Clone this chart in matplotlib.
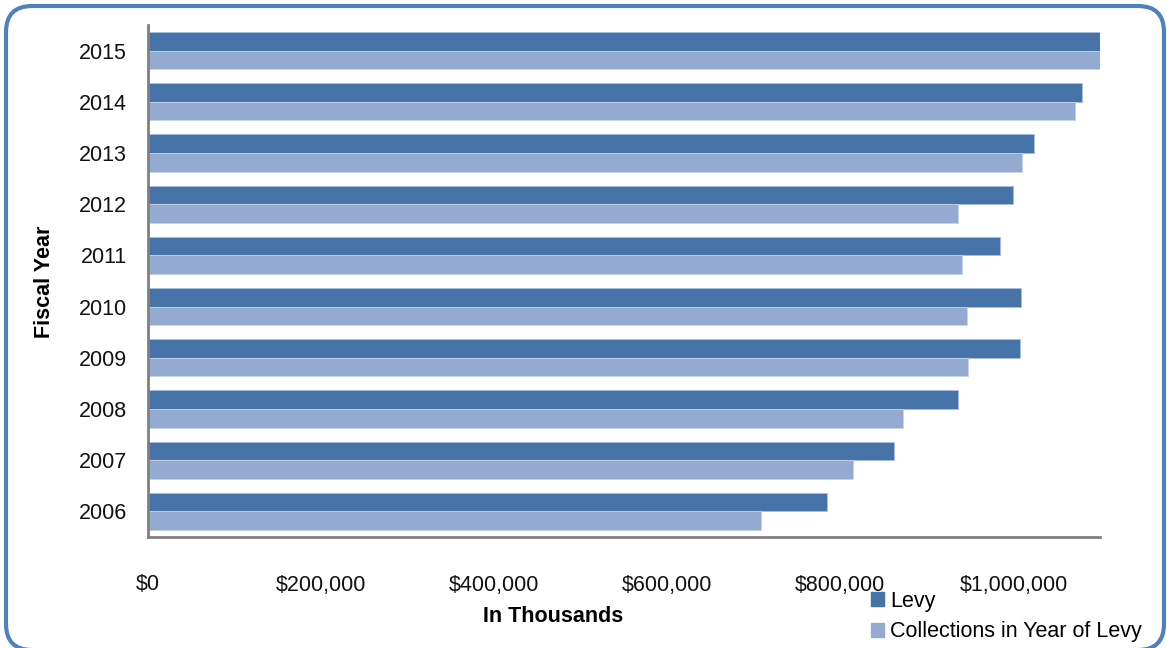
import numpy as np
import matplotlib.pyplot as plt
from matplotlib import font_manager
from matplotlib.patches import FancyBboxPatch, Patch

years = ['2006', '2007', '2008', '2009', '2010', '2011', '2012', '2013', '2014', '2015']
levy = [784500, 861900, 935900, 1007500, 1008700, 984400, 999400, 1023700, 1079000, 1100000]
collections = [708300, 814600, 872300, 947400, 946300, 940500, 935900, 1009800, 1071000, 1100000]
xticks = [0, 200000, 400000, 600000, 800000, 1000000]
xticklabels = ['$0', '$200,000', '$400,000', '$600,000', '$800,000', '$1,000,000']

# narrow face if it is there, else a plain sans at a smaller size
names = {f.name for f in font_manager.fontManager.ttflist}
if 'Liberation Sans Narrow' in names:
    fam, fs = 'Liberation Sans Narrow', 18
else:
    fam, fs = 'Liberation Sans', 15.5
plt.rcParams['font.family'] = [fam, 'DejaVu Sans']

levy_col = '#4673A8'
coll_col = '#95AAD1'

fig = plt.figure(figsize=(11.67, 6.48), dpi=100)

# full-figure layer in pixel units for the rounded frame
bg = fig.add_axes([0, 0, 1, 1])
bg.set_xlim(0, 1167)
bg.set_ylim(0, 648)
bg.axis('off')
bg.add_patch(FancyBboxPatch((6, -2), 1158, 644, boxstyle='round,pad=0,rounding_size=26',
                            facecolor='none', edgecolor='#4F81BD', linewidth=3,
                            clip_on=False))

ax = fig.add_axes([148/1167, 1-537/648, (1100-148)/1167, (537-25)/648])
ax.patch.set_alpha(0)

y = np.arange(len(years))
h = 0.365
ax.barh(y + h/2, levy, height=h, color=levy_col, edgecolor='#A9BEDD', linewidth=0.6, label='Levy')
ax.barh(y - h/2, collections, height=h, color=coll_col, edgecolor='#C6D3E8', linewidth=0.6,
        label='Collections in Year of Levy')

ax.set_xlim(0, 1100000)
ax.set_ylim(-0.5, len(years) - 0.5)
ax.set_yticks(y)
ax.set_yticklabels(years)
ax.set_xticks(xticks)
ax.set_xticklabels(xticklabels)
ax.tick_params(axis='both', length=0, labelsize=fs, colors='#111111')
ax.tick_params(axis='x', pad=27)
ax.tick_params(axis='y', pad=15)

for s in ['top', 'right']:
    ax.spines[s].set_visible(False)
for s in ['left', 'bottom']:
    ax.spines[s].set_color('#808080')
    ax.spines[s].set_linewidth(2)

fig.text(553/1167, 1-617/648, 'In Thousands', ha='center', va='center',
         fontsize=fs, fontweight='bold')
fig.text(45/1167, 1-282/648, 'Fiscal Year', ha='center', va='center',
         fontsize=fs, fontweight='bold', rotation=90)

handles = [Patch(color=levy_col, label='Levy'),
           Patch(color=coll_col, label='Collections in Year of Levy')]
fig.legend(handles=handles, loc='upper left', bbox_to_anchor=(862/1167, 1-582/648),
           frameon=False, fontsize=fs, handlelength=0.6, handleheight=0.6,
           handletextpad=0.3, labelspacing=0.45, borderaxespad=0)

fig.savefig('out.png', dpi=100)
